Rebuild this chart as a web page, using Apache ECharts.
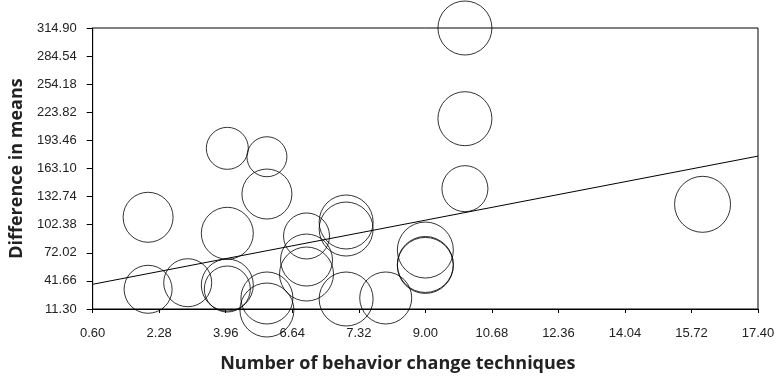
<!DOCTYPE html>
<html>
<head>
<meta charset="utf-8">
<script src="https://cdn.jsdelivr.net/npm/echarts@6/dist/echarts.min.js"></script>
<style>
  html, body { margin: 0; padding: 0; background: #fff; }
  #bubble-chart { width: 778px; height: 378px; }
</style>
</head>
<body>
<div id="bubble-chart"></div>
<script>
// techniques per study, difference in means, bubble weight
const techniques = [2, 2, 3, 4, 4, 4, 4, 5, 5, 5, 5, 6, 6, 6, 7, 7, 7, 8, 9, 9, 9, 10, 10, 10, 16];
const diffMeans = [110.4, 32.6, 39.7, 184.9, 93.1, 37.2, 32.9, 175.8, 135.5, 23.2, 10.2, 90.2, 64.2, 49.1, 105.3, 97.7, 22.1, 23.2, 75.0, 59.4, 58.4, 314.9, 216.9, 141.3, 124.4];
const weights = [25, 24, 24, 21, 26, 26, 23, 20, 25, 26, 27, 23, 26, 27, 27, 27, 27, 26, 28, 28, 28, 27, 27, 23, 28];

// fitted line end points
const fitX = [0.6, 17.4];
const fitY = [38.0, 176.5];

const xTickLabels = ["0.60", "2.28", "3.96", "6.64", "7.32", "9.00", "10.68", "12.36", "14.04", "15.72", "17.40"];
const yTickLabels = ["11.30", "41.66", "72.02", "102.38", "132.74", "163.10", "193.46", "223.82", "254.18", "284.54", "314.90"];

const xMin = 0.6, xMax = 17.4, xStep = 1.68;
const yMin = 11.3, yMax = 314.9, yStep = 30.36;

const chart = echarts.init(document.getElementById("bubble-chart"));

const labelStyle = {
  color: "#222",
  fontSize: 13,
  fontFamily: "Liberation Sans, Arial",
};
const nameStyle = {
  color: "#222",
  fontSize: 18,
  fontWeight: "bold",
  fontFamily: "Open Sans",
};

const option = {
  animation: false,
  grid: {
    left: 87,
    right: 20,
    top: 28,
    bottom: 69,
    show: true,
    borderColor: "#000",
    borderWidth: 1,
  },
  xAxis: {
    type: "value",
    min: xMin,
    max: xMax,
    interval: xStep,
    name: "Number of behavior change techniques",
    nameLocation: "middle",
    nameGap: 46,
    nameTextStyle: Object.assign({ padding: [0, 55, 0, 0] }, nameStyle),
    axisLine: { lineStyle: { color: "#000", width: 1 } },
    axisTick: { show: true, length: 4, lineStyle: { color: "#000" } },
    splitLine: { show: false },
    axisLabel: Object.assign({
      margin: 18,
      formatter: (v) => xTickLabels[Math.round((v - xMin) / xStep)],
    }, labelStyle),
  },
  yAxis: {
    type: "value",
    min: yMin,
    max: yMax,
    interval: yStep,
    name: "Difference in means",
    nameLocation: "middle",
    nameGap: 66,
    nameTextStyle: nameStyle,
    axisLine: { lineStyle: { color: "#000", width: 1 } },
    axisTick: { show: true, length: 6, lineStyle: { color: "#000" } },
    splitLine: { show: false },
    axisLabel: Object.assign({
      margin: 16,
      formatter: (v) => yTickLabels[Math.round((v - yMin) / yStep)],
    }, labelStyle),
  },
  series: [
    {
      type: "scatter",
      clip: false,
      data: techniques.map((x, i) => [x, diffMeans[i], weights[i]]),
      symbol: "circle",
      symbolSize: (d) => d[2] * 2,
      itemStyle: {
        color: "rgba(0,0,0,0)",
        borderColor: "#000",
        borderWidth: 1,
      },
      z: 3,
    },
    {
      type: "line",
      data: fitX.map((x, i) => [x, fitY[i]]),
      showSymbol: false,
      symbol: "none",
      lineStyle: { color: "#000", width: 1 },
      z: 4,
    },
  ],
};

chart.setOption(option);
</script>
</body>
</html>
